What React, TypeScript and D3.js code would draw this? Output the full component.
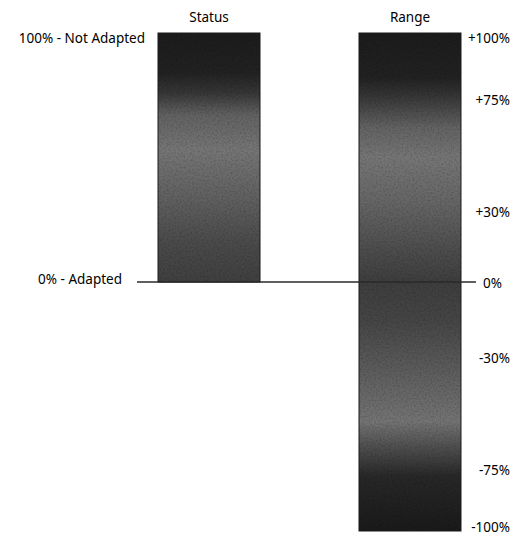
import React from "react";
import * as d3 from "d3";

const categories = ["Status", "Range"];
const barMin = [0, -100];
const barMax = [100, 100];
const rangeTickValues = [100, 75, 30, 0, -30, -75, -100];
const rangeTickLabels = ["+100%", "+75%", "+30%", "0%", "-30%", "-75%", "-100%"];
const statusTickValues = [100, 0];
const statusTickLabels = ["100% - Not Adapted", "0% - Adapted"];

const W = 515;
const H = 538;

const statusStops: [number, string][] = [
  [0, "#1c1c1c"], [0.16, "#222"], [0.24, "#363636"], [0.33, "#626262"], [0.47, "#767676"], [0.65, "#626262"], [0.85, "#4a4a4a"], [1, "#404040"],
];
const rangeStops: [number, string][] = [
  [0, "#1c1c1c"], [0.09, "#222"], [0.13, "#383838"], [0.19, "#636363"], [0.25, "#767676"], [0.34, "#666"], [0.44, "#4c4c4c"],
  [0.5, "#3e3e3e"], [0.58, "#464646"], [0.7, "#626262"], [0.78, "#747474"], [0.83, "#505050"], [0.89, "#282828"], [1, "#1a1a1a"],
];

export default function App() {
  const x = d3.scaleBand<string>().domain(categories).range([158, 461]).paddingInner(0.4925).paddingOuter(0);
  const y = d3.scaleLinear().domain([-100, 100]).range([531, 33]);
  const font = "'Noto Sans', 'Open Sans', sans-serif";
  const stopsList = [statusStops, rangeStops];
  const rangeLabelY = (v: number) => {
    const p = y(v) + (v > 0 ? 5 : v === 0 ? 1 : 2);
    return Math.min(p, 527);
  };
  return (
    <svg width={W} height={H} style={{ position: "absolute", left: 0, top: 0, background: "#fff" }}>
      <defs>
        {categories.map((c, i) => (
          <linearGradient key={c} id={`g${i}`} x1="0" y1="0" x2="0" y2="1">
            {stopsList[i].map(([o, col], j) => (
              <stop key={j} offset={o} stopColor={col} />
            ))}
          </linearGradient>
        ))}
        <filter id="grain" x="0" y="0" width="100%" height="100%">
          <feTurbulence type="fractalNoise" baseFrequency="0.55" numOctaves="2" seed="3" result="n" />
          <feColorMatrix type="matrix" values="0 0 0 0 0  0 0 0 0 0  0 0 0 0 0  0 0 0 -2 1.2" />
          <feComposite in2="SourceGraphic" operator="in" />
        </filter>
      </defs>
      {categories.map((c, i) => {
        const x0 = x(c)!;
        const y0 = y(barMax[i]);
        const h = y(barMin[i]) - y0;
        return (
          <g key={c}>
            <rect x={x0} y={y0} width={x.bandwidth()} height={h} fill={`url(#g${i})`} stroke="#1c1c1c" strokeWidth={1} />
            <rect x={x0} y={y0} width={x.bandwidth()} height={h} fill="#000" filter="url(#grain)" opacity={0.18} />
            <text x={x0 + x.bandwidth() / 2} y={17} dy="0.35em" textAnchor="middle" fontFamily={font} fontSize={13.5} fill="#000">
              {c}
            </text>
          </g>
        );
      })}
      <line x1={137} x2={476} y1={y(0)} y2={y(0)} stroke="#2a2a2a" strokeWidth={1.4} />
      {rangeTickValues.map((v, i) => (
        <text key={v} x={v === 0 ? 502 : 510} y={rangeLabelY(v)} dy="0.35em" textAnchor="end" fontFamily={font} fontSize={13.5} fill="#000">
          {rangeTickLabels[i]}
        </text>
      ))}
      {statusTickValues.map((v, i) => (
        <text key={v} x={v === 0 ? 122 : 145} y={y(v) + (v === 0 ? -3 : 5)} dy="0.35em" textAnchor="end" fontFamily={font} fontSize={13.5} fill="#000">
          {statusTickLabels[i]}
        </text>
      ))}
    </svg>
  );
}
